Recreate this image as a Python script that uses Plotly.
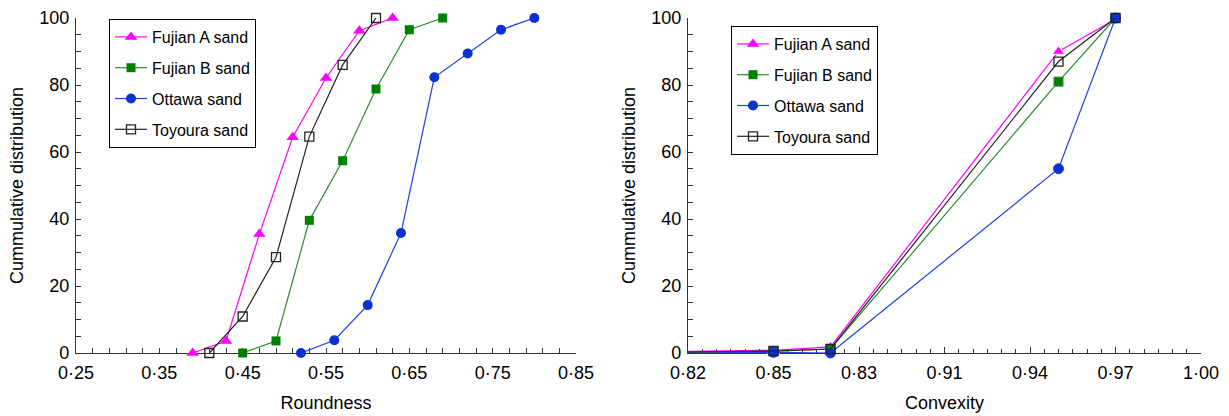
import plotly.graph_objects as go

# ---- Data: Roundness (left panel) ----
round_fa_x = [0.39, 0.43, 0.47, 0.51, 0.55, 0.59, 0.63]
round_fa_y = [0, 3.6, 35.5, 64.4, 82.1, 96.2, 100]
round_fb_x = [0.45, 0.49, 0.53, 0.57, 0.61, 0.65, 0.69]
round_fb_y = [0, 3.6, 39.6, 57.4, 78.8, 96.5, 100]
round_ot_x = [0.52, 0.56, 0.60, 0.64, 0.68, 0.72, 0.76, 0.80]
round_ot_y = [0, 3.8, 14.3, 35.8, 82.3, 89.4, 96.5, 100]
round_ty_x = [0.41, 0.45, 0.49, 0.53, 0.57, 0.61]
round_ty_y = [0, 10.9, 28.6, 64.6, 86, 100]

# ---- Data: Convexity (right panel) ----
conv_x = [0.82, 0.85, 0.87, 0.95, 0.97]
conv_fa_y = [0.5, 0.8, 1.8, 90, 99.6]
conv_fb_y = [0.2, 0.5, 1.2, 81, 100]
conv_ot_y = [0, 0.2, 0, 55, 100]
conv_ty_y = [0.3, 0.6, 1.2, 87, 100]

round_tickvals = [0.25, 0.35, 0.45, 0.55, 0.65, 0.75, 0.85]
round_ticktext = ["0·25", "0·35", "0·45", "0·55", "0·65", "0·75", "0·85"]
conv_tickvals = [0.82, 0.85, 0.88, 0.91, 0.94, 0.97, 1.00]
conv_ticktext = ["0·82", "0·85", "0·83", "0·91", "0·94", "0·97", "1·00"]
y_tickvals = [0, 20, 40, 60, 80, 100]

series_names = ["Fujian A sand", "Fujian B sand", "Ottawa sand", "Toyoura sand"]

FONT = "Liberation Sans, Arial, sans-serif"
styles = [
    dict(line=dict(color="#ff00ff", width=1.2),
         marker=dict(symbol="triangle-up", size=11, color="#ff00ff", opacity=1)),
    dict(line=dict(color="#2e8b2e", width=1.2),
         marker=dict(symbol="square", size=9, color="#008000", opacity=1)),
    dict(line=dict(color="#1f3fe0", width=1.2),
         marker=dict(symbol="circle", size=10, color="#0a32d2", opacity=1)),
    dict(line=dict(color="#222222", width=1.2),
         marker=dict(symbol="square-open", size=9, color="#222222", opacity=1,
                     line=dict(width=1.3))),
]

fig = go.Figure()

left = [(round_fa_x, round_fa_y), (round_fb_x, round_fb_y),
        (round_ot_x, round_ot_y), (round_ty_x, round_ty_y)]
for i, (xs, ys) in enumerate(left):
    st = styles[i]
    fig.add_trace(go.Scatter(
        x=xs, y=ys, mode="lines+markers", name=series_names[i],
        line=st["line"], marker=st["marker"], cliponaxis=False,
        xaxis="x", yaxis="y", legend="legend", legendgroup="L%d" % i))

right = [conv_fa_y, conv_fb_y, conv_ot_y, conv_ty_y]
for i, ys in enumerate(right):
    st = styles[i]
    mk = dict(st["marker"])
    mk["size"] = [0] + [mk["size"]] * (len(conv_x) - 1)
    fig.add_trace(go.Scatter(
        x=conv_x, y=ys, mode="lines+markers", name=series_names[i],
        line=st["line"], marker=mk, cliponaxis=False, showlegend=False,
        xaxis="x2", yaxis="y2", legendgroup="R%d" % i))
    # legend-only entry for the right panel
    fig.add_trace(go.Scatter(
        x=[None], y=[None], mode="lines+markers", name=series_names[i],
        line=st["line"], marker=st["marker"],
        xaxis="x2", yaxis="y2", legend="legend2", legendgroup="R%d" % i))

axis_common = dict(
    showline=True, linecolor="#333333", linewidth=1.2, mirror=False,
    showgrid=False, zeroline=False, ticks="inside", tickcolor="#333333",
    tickwidth=1, tickfont=dict(family=FONT, size=18, color="black"),
    layer="below traces", automargin=False,
)

ydom = [63 / 416, 398 / 416]

legend_common = dict(
    xanchor="left", yanchor="top", bgcolor="white", bordercolor="black",
    borderwidth=1, font=dict(family=FONT, size=16, color="black"),
    tracegroupgap=7, traceorder="grouped", itemwidth=32,
)

fig.update_layout(
    width=1229, height=416,
    margin=dict(l=0, r=0, t=0, b=0),
    paper_bgcolor="white", plot_bgcolor="white",
    font=dict(family=FONT, color="black"),
    xaxis=dict(axis_common, domain=[76 / 1229, 576 / 1229], anchor="y",
               range=[0.25, 0.85], tickvals=round_tickvals,
               ticktext=round_ticktext, ticklen=5, ticklabelstandoff=3,
               minor=dict(dtick=0.02, tick0=0.25, ticks="inside", ticklen=5,
                          tickcolor="#333333"),
               title=dict(text="Roundness", font=dict(family=FONT, size=18),
                          standoff=14)),
    yaxis=dict(axis_common, domain=ydom, anchor="x", range=[0, 100],
               tickvals=y_tickvals, ticklen=5, ticklabelstandoff=2,
               minor=dict(dtick=5, tick0=0, ticks="inside", ticklen=5,
                          tickcolor="#333333"),
               title=dict(text="Cummulative distribution",
                          font=dict(family=FONT, size=18), standoff=10)),
    xaxis2=dict(axis_common, domain=[688 / 1229, 1201 / 1229], anchor="y2",
                range=[0.82, 1.00], tickvals=conv_tickvals,
                ticktext=conv_ticktext, ticklen=6, ticklabelstandoff=3,
                minor=dict(dtick=0.005, tick0=0.82, ticks="inside", ticklen=4,
                           tickcolor="#333333"),
                title=dict(text="Convexity", font=dict(family=FONT, size=18),
                           standoff=14)),
    yaxis2=dict(axis_common, domain=ydom, anchor="x2", range=[0, 100],
                tickvals=y_tickvals, ticklen=5, ticklabelstandoff=2,
                minor=dict(dtick=5, tick0=0, ticks="inside", ticklen=5,
                           tickcolor="#333333"),
                title=dict(text="Cummulative distribution",
                           font=dict(family=FONT, size=18), standoff=10)),
    legend=dict(legend_common, x=109 / 1229, y=397 / 416),
    legend2=dict(legend_common, x=731 / 1229, y=390 / 416),
    showlegend=True,
)

fig.write_html("out.html")
